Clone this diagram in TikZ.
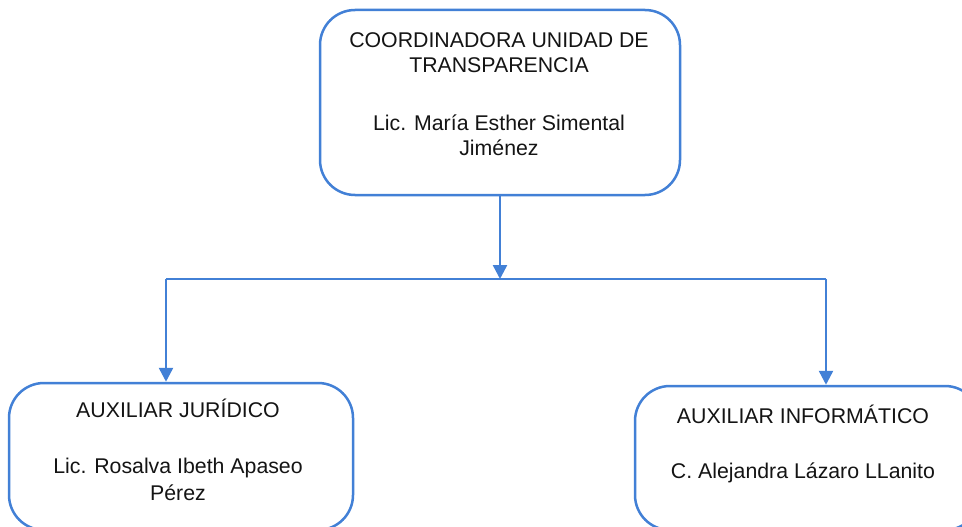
\documentclass[tikz,border=0pt]{standalone}
\usepackage{fontspec}
\setmainfont{Liberation Sans}
\usetikzlibrary{arrows.meta}
\definecolor{lineblue}{RGB}{66,128,214}
\begin{document}
\begin{tikzpicture}[x=1pt,y=-1pt,
  box/.style={draw=lineblue, line width=2.5pt, rounded corners=35pt, inner sep=0pt},
  lbl/.style={anchor=base, inner sep=0pt, font=\fontsize{21.3}{25}\selectfont, text=black!92},
  conn/.style={draw=lineblue, line width=2.5pt},
  tip/.style={-{Triangle[width=14pt,length=14pt]}}]
\clip (0,0) rectangle (962,527);
\fill[white] (0,0) rectangle (962,527);
% boxes
\node[box, minimum width=360pt, minimum height=185pt] (top) at (500,102.5) {};
\node[box, minimum width=344pt, minimum height=147pt] (lb) at (181,456.5) {};
\node[box, minimum width=345pt, minimum height=144pt] (rb) at (807.5,458) {};
% texts
\node[lbl] (t1) at (499,48) {COORDINADORA UNIDAD DE};
\node[lbl] (t2) at (499,73) {TRANSPARENCIA};
\node[lbl] (t3) at (499,130) {Lic. María Esther Simental};
\node[lbl] (t4) at (499,155) {Jiménez};
\node[lbl] (l1) at (178,417) {AUXILIAR JURÍDICO};
\node[lbl] (l2) at (178,473) {Lic. Rosalva Ibeth Apaseo};
\node[lbl] (l3) at (178,500) {Pérez};
\node[lbl] (r1) at (803,423) {AUXILIAR INFORMÁTICO};
\node[lbl] (r2) at (803,478) {C. Alejandra Lázaro LLanito};
% connectors
\coordinate (j) at (500,279);
\coordinate (jl) at (166,279);
\coordinate (jr) at (826,279);
\draw[conn,tip] (top.south) -- (j);
\draw[conn] (jl) -- (jr);
\draw[conn,tip] (jl) -- (jl |- lb.north);
\draw[conn,tip] (jr) -- (jr |- rb.north);
\end{tikzpicture}
\end{document}
